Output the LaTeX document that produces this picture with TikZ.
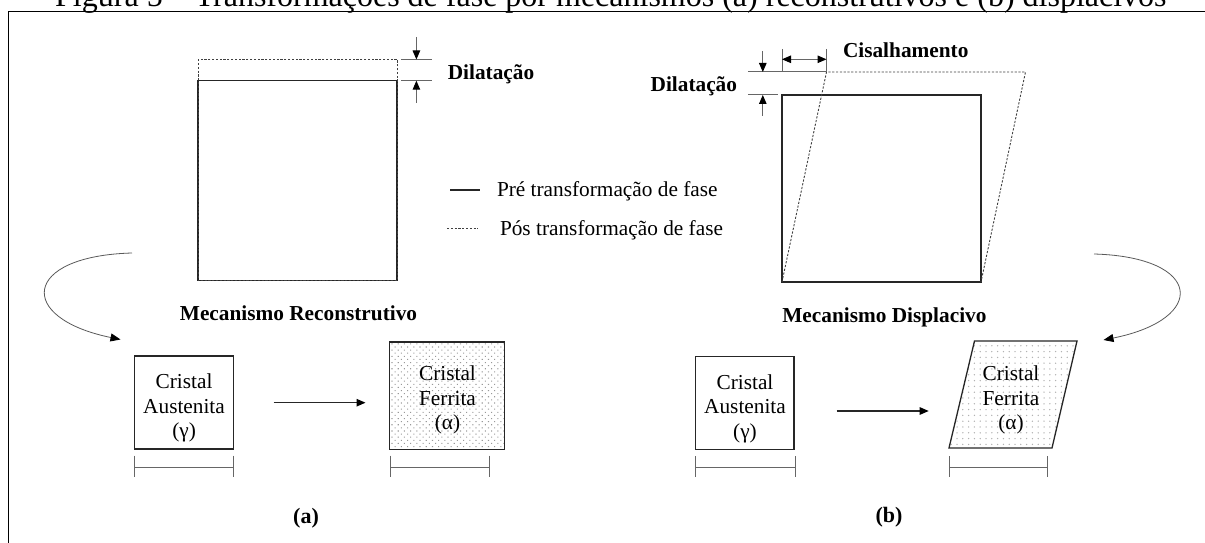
\documentclass[tikz,border=0pt]{standalone}
\usepackage{fontspec}
\setmainfont{Liberation Serif}
\usetikzlibrary{arrows.meta,patterns.meta}
\tikzset{
  lbl/.style={font=\fontsize{21.3bp}{24.5bp}\selectfont, inner sep=0pt, outer sep=0pt},
  blbl/.style={font=\fontsize{21.3bp}{24.5bp}\selectfont\bfseries, inner sep=0pt, outer sep=0pt},
  box/.style={draw=black!85, line width=1.3bp, inner sep=0pt, outer sep=0pt},
  prel/.style={draw=black!85, line width=1.2bp},
  posl/.style={draw=black!75, line width=0.9bp, dash pattern=on 2.2bp off 1.6bp},
  dimln/.style={draw=black!60, line width=1bp},
  tip/.style={-{Triangle[length=9bp,width=7.5bp,color=black]}},
  dtip/.style={{Triangle[length=9bp,width=7.5bp,color=black]}-{Triangle[length=9bp,width=7.5bp,color=black]}},
  curv/.style={draw=black!65, line width=0.8bp, -{Triangle[length=10bp,width=8bp,color=black]}},
  dotsA/.style={pattern={Dots[angle=45,distance=4.4bp,radius=0.75bp]}, pattern color=black!40},
  dotsB/.style={pattern={Dots[distance=5.8bp,radius=0.75bp]}, pattern color=black!30}
}
\begin{document}
\begin{tikzpicture}[x=1bp,y=-1bp]
\useasboundingbox (0,0) rectangle (1205,543);
\clip (0,0) rectangle (1205,543);

% title (cut at the top, as in the reference)
\node[anchor=base west, inner sep=0pt, font=\fontsize{32bp}{36bp}\selectfont] (title) at (55,7)
  {Figura 5 – Transformações de fase por mecanismos (a) reconstrutivos e (b) displacivos};

% frame
\coordinate (fbl) at (8.4,543);
\coordinate (ftl) at (8.4,11.5);
\coordinate (ftr) at (1205,11.5);
\draw[line width=1.5bp] (fbl) -- (ftl) -- (ftr);

% ---------- (a) top: dilatation ----------
\coordinate (ra1) at (198,80.7);
\coordinate (ra2) at (397,280.7);
\coordinate (ra3) at (198,59.3);
\draw[prel] (ra1) rectangle (ra2);
\draw[posl] (ra3) rectangle (ra2);

\coordinate (ea1) at (401,59.5);   \coordinate (ea2) at (431.7,59.5);
\coordinate (ea3) at (401,80.7);   \coordinate (ea4) at (431.7,80.7);
\draw[dimln] (ea1) -- (ea2);
\draw[dimln] (ea3) -- (ea4);
\coordinate (da1) at (416.4,37);   \coordinate (da2) at (416.4,59.5);
\coordinate (da3) at (416.4,103);  \coordinate (da4) at (416.4,80.7);
\draw[dimln,tip] (da1) -- (da2);
\draw[dimln,tip] (da3) -- (da4);
\node[blbl, anchor=base west] (dilA) at (447.8,80) {Dilatação};

% legend
\coordinate (lg1) at (450,190);  \coordinate (lg2) at (480,190);
\coordinate (lg3) at (447,228.3); \coordinate (lg4) at (478,228.3);
\draw[prel] (lg1) -- (lg2);
\draw[posl] (lg3) -- (lg4);
\node[lbl, anchor=base west] (legpre) at (497,197) {Pré transformação de fase};
\node[lbl, anchor=base west] (legpos) at (500,235.5) {Pós transformação de fase};

% ---------- (b) top: dilatation + shear ----------
\coordinate (sb1) at (782,95);
\coordinate (sb2) at (981,282);
\draw[prel] (sb1) rectangle (sb2);
\coordinate (pb1) at (782,282);
\coordinate (pb2) at (826.5,72);
\coordinate (pb3) at (1025.5,72);
\coordinate (pb4) at (981,282);
\draw[posl] (pb1) -- (pb2) -- (pb3) -- (pb4);

\coordinate (eb1) at (747.8,72);  \coordinate (eb2) at (826.5,72);
\coordinate (eb3) at (747.8,95);  \coordinate (eb4) at (777.5,95);
\draw[dimln] (eb1) -- (eb2);
\draw[dimln] (eb3) -- (eb4);
\coordinate (db1) at (762.8,51);  \coordinate (db2) at (762.8,72);
\coordinate (db3) at (762.8,116); \coordinate (db4) at (762.8,95);
\draw[dimln,tip] (db1) -- (db2);
\draw[dimln,tip] (db3) -- (db4);
\node[blbl, anchor=base east] (dilB) at (737,91.7) {Dilatação};

\coordinate (ct1) at (782,49);   \coordinate (ct2) at (782,72);
\coordinate (ct3) at (826.5,49); \coordinate (ct4) at (826.5,72);
\draw[dimln] (ct1) -- (ct2);
\draw[dimln] (ct3) -- (ct4);
\coordinate (ca1) at (782,59.3); \coordinate (ca2) at (826.5,59.3);
\draw[dimln,dtip] (ca1) -- (ca2);
\node[blbl, anchor=base west] (cis) at (843,57.3) {Cisalhamento};

% ---------- curved arrows ----------
\coordinate (cl0) at (132,253);
\coordinate (cl1) at (120.5,339.5);
\draw[curv] (cl0) .. controls (22,256) and (16,318) .. (cl1);
\coordinate (cr0) at (1094,254);
\coordinate (cr1) at (1103.5,340);
\draw[curv] (cr0) .. controls (1203,257) and (1208,319) .. (cr1);

\node[blbl, anchor=base] (mecA) at (298.5,320.7) {Mecanismo Reconstrutivo};
\node[blbl, anchor=base] (mecB) at (884.4,322.3) {Mecanismo Displacivo};

% ---------- (a) bottom ----------
\node[box, minimum width=98.7bp, minimum height=93bp] (ausA) at (184.05,402.5) {};
\node[lbl, align=center] (ausAt) at (184.05,408) {Cristal\\Austenita\\(γ)};
\node[box, dotsA, minimum width=115bp, minimum height=107.5bp] (ferA) at (447,395.75) {};
\node[lbl, align=center] (ferAt) at (447.5,400) {Cristal\\Ferrita\\(α)};
\coordinate (arA1) at (273.6,402.7);
\coordinate (arA2) at (365.5,402.7);
\draw[prel,tip] (arA1) -- (arA2);

% scale bars (a)
\coordinate (ba1) at (134.7,455.7); \coordinate (ba2) at (134.7,477.3);
\coordinate (ba3) at (233.8,455.7); \coordinate (ba4) at (233.8,477.3);
\coordinate (ba5) at (134.7,467.3); \coordinate (ba6) at (233.8,467.3);
\draw[dimln] (ba1) -- (ba2);
\draw[dimln] (ba3) -- (ba4);
\draw[dimln] (ba5) -- (ba6);
\coordinate (bb1) at (390.4,455.7); \coordinate (bb2) at (390.4,477.3);
\coordinate (bb3) at (489.1,455.7); \coordinate (bb4) at (489.1,477.3);
\coordinate (bb5) at (390.4,467.3); \coordinate (bb6) at (489.1,467.3);
\draw[dimln] (bb1) -- (bb2);
\draw[dimln] (bb3) -- (bb4);
\draw[dimln] (bb5) -- (bb6);
\node[anchor=base, inner sep=0pt, font=\fontsize{22bp}{26bp}\selectfont\bfseries] (labA) at (306,523) {(a)};

% ---------- (b) bottom ----------
\node[box, minimum width=98.3bp, minimum height=92.6bp] (ausB) at (744.85,403) {};
\node[lbl, align=center] (ausBt) at (745,408.5) {Cristal\\Austenita\\(γ)};
\coordinate (fb1) at (949,448);
\coordinate (fb2) at (974.5,341);
\coordinate (fb3) at (1077,341);
\coordinate (fb4) at (1052,448);
\draw[box, dotsB] (fb1) -- (fb2) -- (fb3) -- (fb4) -- cycle;
\node[lbl, align=center] (ferBt) at (1011,400) {Cristal\\Ferrita\\(α)};
\coordinate (arB1) at (836.5,411);
\coordinate (arB2) at (928.7,411);
\draw[prel,tip] (arB1) -- (arB2);

\coordinate (bc1) at (695.7,456); \coordinate (bc2) at (695.7,477.3);
\coordinate (bc3) at (795,456);   \coordinate (bc4) at (795,477.3);
\coordinate (bc5) at (695.7,467.7); \coordinate (bc6) at (795,467.7);
\draw[dimln] (bc1) -- (bc2);
\draw[dimln] (bc3) -- (bc4);
\draw[dimln] (bc5) -- (bc6);
\coordinate (bd1) at (949.2,456); \coordinate (bd2) at (949.2,477.3);
\coordinate (bd3) at (1047.5,456); \coordinate (bd4) at (1047.5,477.3);
\coordinate (bd5) at (949.2,467.7); \coordinate (bd6) at (1047.5,467.7);
\draw[dimln] (bd1) -- (bd2);
\draw[dimln] (bd3) -- (bd4);
\draw[dimln] (bd5) -- (bd6);
\node[anchor=base, inner sep=0pt, font=\fontsize{22bp}{26bp}\selectfont\bfseries] (labB) at (889,522) {(b)};
\end{tikzpicture}
\end{document}
